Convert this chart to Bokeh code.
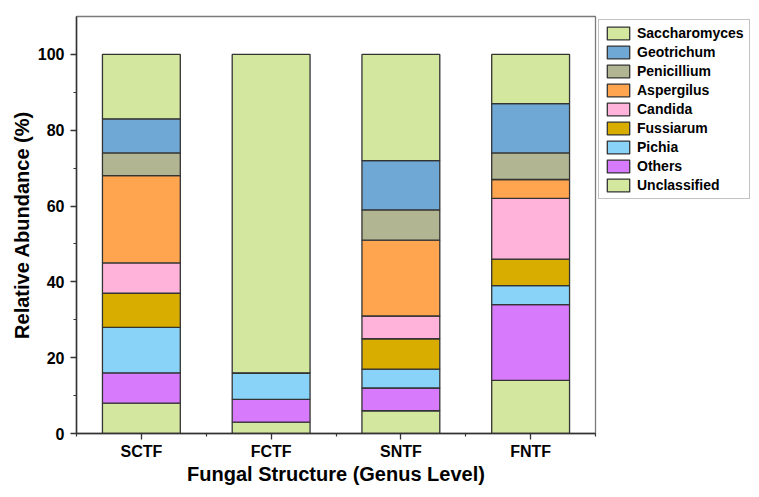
from bokeh.plotting import figure
from bokeh.models import ColumnDataSource, Range1d, FixedTicker, Legend, LegendItem
from bokeh.embed import file_html
from bokeh.resources import INLINE

samples = ["SCTF", "FCTF", "SNTF", "FNTF"]
genera = ["Unclassified", "Others", "Pichia", "Fussiarum", "Candida",
          "Aspergilus", "Penicillium", "Geotrichum", "Saccharomyces"]
unclassified = [8, 3, 6, 14]
others = [8, 6, 6, 20]
pichia = [12, 7, 5, 5]
fussiarum = [9, 0, 8, 7]
candida = [8, 0, 6, 16]
aspergilus = [23, 0, 20, 5]
penicillium = [6, 0, 8, 7]
geotrichum = [9, 0, 13, 13]
saccharomyces = [17, 84, 28, 13]
colors = ["#D4E79E", "#D77AFB", "#88D3F7", "#D8AD00", "#FFB3DB",
          "#FFA54F", "#B2B592", "#6FA8D5", "#D4E79E"]

xs = list(range(1, len(samples) + 1))
data = dict(x=xs, Unclassified=unclassified, Others=others, Pichia=pichia,
            Fussiarum=fussiarum, Candida=candida, Aspergilus=aspergilus,
            Penicillium=penicillium, Geotrichum=geotrichum,
            Saccharomyces=saccharomyces)
source = ColumnDataSource(data)

p = figure(frame_width=519, frame_height=417, output_backend="svg",
           toolbar_location=None,
           x_range=Range1d(0.5, 4.5), y_range=Range1d(0, 110),
           min_border_left=76, min_border_right=0, min_border_top=16,
           min_border_bottom=0)

renderers = p.vbar_stack(genera, x="x", width=0.6, color=colors, source=source,
                         line_color="#333333", line_width=1.3)

p.xgrid.visible = False
p.ygrid.visible = False
p.outline_line_color = "#7a7a7a"
p.outline_line_width = 1.3
p.background_fill_color = "white"
p.border_fill_color = "white"

font = "Liberation Sans"
for ax in (p.xaxis[0], p.yaxis[0]):
    ax.axis_line_color = "#333333"
    ax.axis_line_width = 1.5
    ax.major_tick_line_color = "#333333"
    ax.minor_tick_line_color = "#333333"
    ax.major_tick_line_width = 1.3
    ax.minor_tick_line_width = 1.2
    ax.major_tick_in = 0
    ax.major_tick_out = 6
    ax.minor_tick_in = 0
    ax.minor_tick_out = 3
    ax.major_label_text_font = font
    ax.major_label_text_font_style = "bold"
    ax.major_label_text_font_size = "16px"
    ax.major_label_text_color = "#000000"
    ax.axis_label_text_font = font
    ax.axis_label_text_font_style = "bold"
    ax.axis_label_text_font_size = "20px"
    ax.axis_label_text_color = "#000000"

p.xaxis.ticker = FixedTicker(ticks=xs, minor_ticks=[0.5, 1.5, 2.5, 3.5, 4.5])
p.xaxis.major_label_overrides = {x: s for x, s in zip(xs, samples)}
p.xaxis.axis_label = "Fungal Structure (Genus Level)"
p.xaxis.major_label_standoff = 3
p.xaxis.axis_label_standoff = 0

p.yaxis.ticker = FixedTicker(ticks=[0, 20, 40, 60, 80, 100],
                             minor_ticks=[10, 30, 50, 70, 90])
p.yaxis.axis_label = "Relative Abundance (%)"
p.yaxis.major_label_standoff = 6
p.yaxis.axis_label_standoff = 2

items = [LegendItem(label=g, renderers=[r]) for g, r in zip(genera, renderers)]
items.reverse()
legend = Legend(items=items, location="top_left", orientation="vertical",
                glyph_width=28, glyph_height=16, label_height=16,
                spacing=3, padding=5, margin=3, label_standoff=5,
                label_text_font=font, label_text_font_style="bold",
                label_text_font_size="14px", label_text_color="#000000",
                border_line_color="#888888", border_line_width=1,
                background_fill_color="white", background_fill_alpha=1.0)
p.add_layout(legend, "right")

open("out.html", "w").write(file_html(p, INLINE))
